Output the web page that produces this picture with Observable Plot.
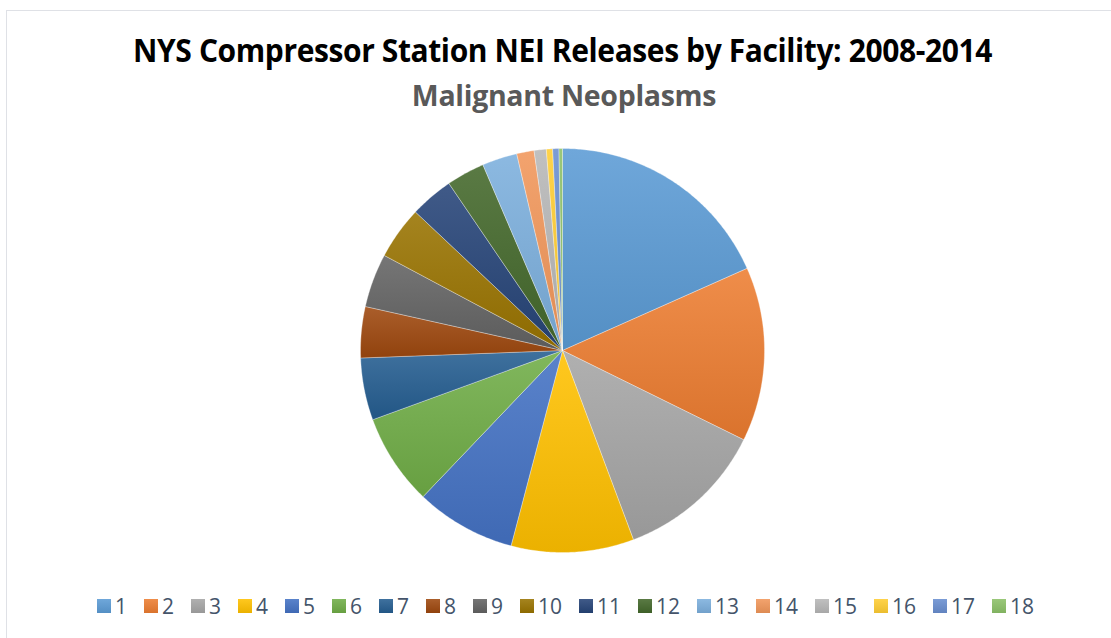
<!DOCTYPE html>
<html>
<head>
<meta charset="utf-8">
<script src="https://cdn.jsdelivr.net/npm/d3@7"></script>
<script src="https://cdn.jsdelivr.net/npm/@observablehq/plot@0.6"></script>
<style>
  html, body { margin: 0; padding: 0; background: #fff; }
  #frame { position: relative; width: 1111px; height: 638px; overflow: hidden; font-family: "Open Sans", "Liberation Sans", sans-serif; }
  #border { position: absolute; left: 6px; top: 10px; width: 1200px; height: 700px; border-left: 1.5px solid #dfe1e6; border-top: 1.5px solid #dfe1e6; }
  #title { position: absolute; left: 0; width: 1125px; top: 30px; text-align: center; font-weight: 700; font-size: 30px; line-height: 40px; color: #000; letter-spacing: -0.4px; transform: scaleY(1.08); }
  #subtitle { position: absolute; left: 0; width: 1128px; top: 76px; text-align: center; font-weight: 700; font-size: 28.5px; line-height: 38px; color: #595959; letter-spacing: -0.3px; }
  #chart { position: absolute; left: 0; top: 140px; }
  #legend { position: absolute; top: 592px; left: 97px; display: flex; align-items: center; font-size: 21px; line-height: 28px; color: #44546a; }
  .item { display: flex; align-items: center; }
  .sw { width: 14px; height: 14px; margin-right: 4px; flex: none; }
</style>
</head>
<body>
<div id="frame">
  <div id="border"></div>
  <div id="title">NYS Compressor Station NEI Releases by Facility: 2008-2014</div>
  <div id="subtitle">Malignant Neoplasms</div>
  <div id="chart"></div>
  <div id="legend"></div>
</div>
<script>
// Data: facilities and their share (in degrees of the pie)
const facilities = ["1","2","3","4","5","6","7","8","9","10","11","12","13","14","15","16","17","18"];
const values = [66, 50.2, 43.2, 35.3, 28.9, 26.3, 17.9, 14.7, 15.5, 15.2, 12.5, 11, 10.1, 5, 3.5, 1.8, 1.8, 1];
const colors = ["#5B9BD5","#ED7D31","#A5A5A5","#FFC000","#4472C4","#70AD47","#255E91","#9E480E","#636363","#997300","#264478","#43682B","#7CAFDD","#F1975A","#B7B7B7","#FFCD33","#698ED0","#8CC168"];

const W = 1111, H = 420, R = 202, CX = 562, CY = 210;
const total = d3.sum(values);
// Build polygon vertices for each slice (clockwise from 12 o'clock)
const pts = [];
let acc = 0;
facilities.forEach((f, i) => {
  const a0 = acc / total * 2 * Math.PI;
  acc += values[i];
  const a1 = acc / total * 2 * Math.PI;
  pts.push({key: f, x: 0, y: 0});
  const n = Math.max(2, Math.ceil((a1 - a0) / 0.01));
  for (let k = 0; k <= n; k++) {
    const a = a0 + (a1 - a0) * k / n;
    pts.push({key: f, x: Math.sin(a), y: Math.cos(a)});
  }
  pts.push({key: f, x: 0, y: 0});
});

const gradIds = facilities.map((f, i) => "slicegrad" + i);

const plot = Plot.plot({
  width: W, height: H,
  margin: 0,
  x: {domain: [-CX / R, (W - CX) / R], axis: null},
  y: {domain: [-(H - CY) / R, CY / R], axis: null},
  color: {domain: facilities, range: gradIds.map(id => `url(#${id})`)},
  marks: [
    Plot.line(pts, {x: "x", y: "y", z: "key", fill: "key", stroke: "#ffffff", strokeOpacity: 0.45, strokeWidth: 0.7, curve: "linear-closed"})
  ]
});

// gradient definitions (lighter at top, darker at bottom)
const ns = "http://www.w3.org/2000/svg";
const defs = document.createElementNS(ns, "defs");
colors.forEach((c, i) => {
  const g = document.createElementNS(ns, "linearGradient");
  g.setAttribute("id", gradIds[i]);
  g.setAttribute("x1", "0"); g.setAttribute("y1", "0");
  g.setAttribute("x2", "0"); g.setAttribute("y2", "1");
  const top = d3.interpolateRgb(c, "#ffffff")(0.12);
  const bot = d3.interpolateRgb(c, "#000000")(0.08);
  [[0, top], [1, bot]].forEach(([o, col]) => {
    const s = document.createElementNS(ns, "stop");
    s.setAttribute("offset", o);
    s.setAttribute("stop-color", col);
    g.appendChild(s);
  });
  defs.appendChild(g);
});
plot.insertBefore(defs, plot.firstChild);
document.getElementById("chart").appendChild(plot);

// legend
const leg = document.getElementById("legend");
facilities.forEach((f, i) => {
  const it = document.createElement("div");
  it.className = "item";
  it.style.width = (f.length > 1 ? 59 : 47) + "px";
  const sw = document.createElement("div");
  sw.className = "sw";
  sw.style.background = `linear-gradient(${d3.interpolateRgb(colors[i], "#fff")(0.12)}, ${d3.interpolateRgb(colors[i], "#000")(0.08)})`;
  const lb = document.createElement("span");
  lb.textContent = f;
  it.appendChild(sw); it.appendChild(lb);
  leg.appendChild(it);
});
</script>
</body>
</html>
